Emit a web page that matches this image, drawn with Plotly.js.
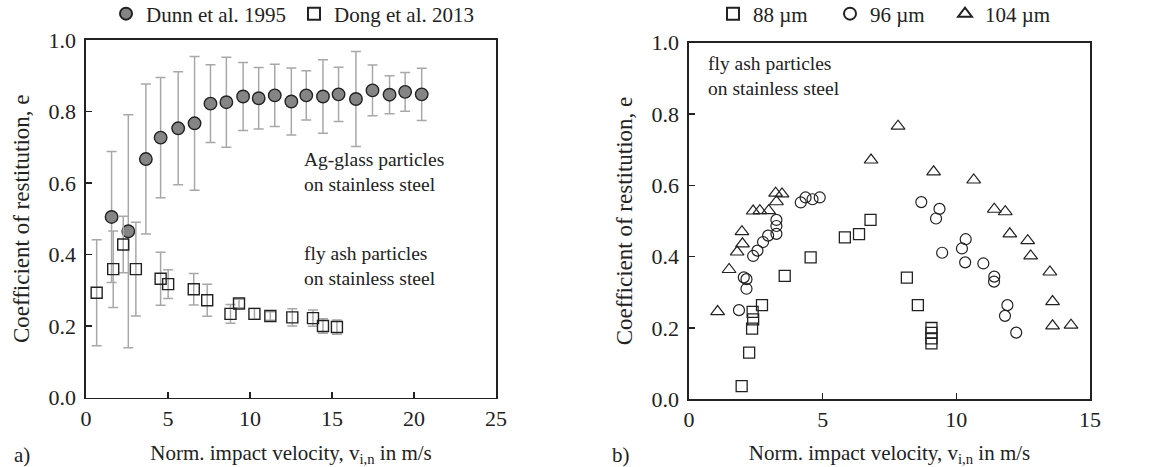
<!DOCTYPE html>
<html>
<head>
<meta charset="utf-8">
<script src="https://cdn.plot.ly/plotly-3.0.1.min.js"></script>
<style>html,body{margin:0;padding:0;background:#fff;}#chart{width:1153px;height:467px;}</style>
</head>
<body>
<div id="chart"></div>
<script>
// ---- Panel a) ----
const dunnX = [1.56, 2.58, 3.65, 4.55, 5.62, 6.62, 7.59, 8.56, 9.58, 10.53, 11.51, 12.52, 13.43, 14.45, 15.40, 16.46, 17.47, 18.51, 19.46, 20.47];
const dunnY = [0.505, 0.465, 0.667, 0.727, 0.753, 0.767, 0.822, 0.826, 0.842, 0.837, 0.845, 0.828, 0.845, 0.842, 0.848, 0.835, 0.859, 0.847, 0.855, 0.848];
const dunnErr = [0.183, 0.326, 0.21, 0.168, 0.158, 0.187, 0.109, 0.126, 0.095, 0.086, 0.087, 0.094, 0.069, 0.103, 0.076, 0.133, 0.071, 0.053, 0.054, 0.073];

const dongX = [0.65, 1.66, 2.27, 3.04, 4.55, 5.01, 6.57, 7.39, 8.81, 9.33, 10.27, 11.24, 12.58, 13.84, 14.45, 15.30];
const dongY = [0.293, 0.359, 0.428, 0.359, 0.332, 0.317, 0.303, 0.272, 0.234, 0.263, 0.234, 0.228, 0.224, 0.222, 0.200, 0.197];
const dongErr = [0.148, 0.107, 0.079, 0.131, 0.074, 0.04, 0.044, 0.045, 0.026, 0.012, 0.015, 0.012, 0.024, 0.023, 0.02, 0.02];

// ---- Panel b) ----
const s88X = [1.97, 2.25, 2.36, 2.40, 2.38, 2.73, 3.58, 4.55, 5.83, 6.36, 6.79, 8.15, 8.56, 9.07, 9.07, 9.07, 9.07];
const s88Y = [0.037, 0.131, 0.198, 0.224, 0.245, 0.264, 0.346, 0.398, 0.454, 0.463, 0.503, 0.341, 0.264, 0.200, 0.186, 0.171, 0.157];

const s96X = [1.87, 2.05, 2.15, 2.15, 2.40, 2.56, 2.77, 2.96, 3.27, 3.27, 3.27, 4.18, 4.36, 4.62, 4.89, 8.69, 9.24, 9.37, 9.47, 10.21, 10.35, 10.33, 11.01, 11.42, 11.41, 11.91, 11.82, 12.24];
const s96Y = [0.250, 0.342, 0.337, 0.310, 0.402, 0.417, 0.441, 0.459, 0.464, 0.486, 0.503, 0.552, 0.566, 0.561, 0.566, 0.553, 0.507, 0.534, 0.411, 0.423, 0.449, 0.384, 0.381, 0.344, 0.330, 0.264, 0.234, 0.187];

const s104X = [1.07, 1.50, 1.80, 2.00, 1.98, 2.40, 2.65, 2.98, 3.27, 3.24, 3.48, 6.81, 7.82, 9.15, 10.65, 11.42, 11.83, 12.0, 12.67, 12.78, 13.50, 13.60, 13.60, 14.29];
const s104Y = [0.246, 0.364, 0.413, 0.436, 0.470, 0.528, 0.529, 0.529, 0.554, 0.578, 0.576, 0.671, 0.766, 0.638, 0.615, 0.533, 0.526, 0.464, 0.445, 0.402, 0.357, 0.274, 0.206, 0.208];

const xTicksA = [0, 5, 10, 15, 20, 25];
const xTicksB = [0, 5, 10, 15];
const yTicks = [0, 0.2, 0.4, 0.6, 0.8, 1.0];

const FAM = '"Liberation Serif", "Times New Roman", serif';
const INK = '#222';
const ERRC = '#a8a8a8';
const F = (size) => ({family: FAM, size: size, color: INK});

const traces = [
  {
    name: 'Dunn et al. 1995', x: dunnX, y: dunnY, type: 'scatter', mode: 'markers',
    xaxis: 'x', yaxis: 'y', legend: 'legend',
    marker: {symbol: 'circle', size: 12.5, color: '#858585', line: {color: INK, width: 1.4}},
    error_y: {type: 'data', array: dunnErr, visible: true, color: ERRC, thickness: 1.5, width: 5}
  },
  {
    name: 'Dong et al. 2013', x: dongX, y: dongY, type: 'scatter', mode: 'markers',
    xaxis: 'x', yaxis: 'y', legend: 'legend',
    marker: {symbol: 'square', size: 11, color: 'rgba(255,255,255,0)', line: {color: INK, width: 1.4}},
    error_y: {type: 'data', array: dongErr, visible: true, color: ERRC, thickness: 1.5, width: 5}
  },
  {
    name: '88 µm', x: s88X, y: s88Y, type: 'scatter', mode: 'markers',
    xaxis: 'x2', yaxis: 'y2', legend: 'legend2',
    marker: {symbol: 'square-open', size: 11, color: INK, line: {width: 1.3}}
  },
  {
    name: '96 µm', x: s96X, y: s96Y, type: 'scatter', mode: 'markers',
    xaxis: 'x2', yaxis: 'y2', legend: 'legend3',
    marker: {symbol: 'circle-open', size: 11, color: INK, line: {width: 1.2}}
  },
  {
    name: '104 µm', x: s104X, y: s104Y, type: 'scatter', mode: 'markers',
    xaxis: 'x2', yaxis: 'y2', legend: 'legend4',
    marker: {symbol: 'triangle-up-open', size: 12, color: INK, line: {width: 1.2}}
  }
];

const xTitle = 'Norm. impact velocity, v<sub>i,n</sub> in m/s';
const yTitle = 'Coefficient of restitution, e';

function xaxisBase(domain, range, ticks) {
  return {
    domain: domain, range: range, tickvals: ticks, ticktext: ticks.map(String),
    ticks: 'inside', ticklen: 6, tickwidth: 1.3, tickcolor: INK,
    showline: true, mirror: true, linecolor: INK, linewidth: 1.6,
    showgrid: false, zeroline: false, fixedrange: true,
    tickfont: F(22), ticklabelstandoff: 0,
    title: {text: xTitle, font: F(21), standoff: 24}
  };
}
function yaxisBase(domain, anchor) {
  return {
    domain: domain, range: [0, 1], tickvals: yTicks, ticktext: yTicks.map(v => v.toFixed(1)),
    ticks: 'inside', ticklen: 6, tickwidth: 1.3, tickcolor: INK,
    showline: true, mirror: true, linecolor: INK, linewidth: 1.6,
    showgrid: false, zeroline: false, fixedrange: true, anchor: anchor,
    tickfont: F(22), ticklabelstandoff: 4,
    title: {text: yTitle, font: F(23), standoff: 12}
  };
}

const xa = xaxisBase([86/1153, 496/1153], [0, 25], xTicksA); xa.anchor = 'y';
const xb = xaxisBase([689/1153, 1090/1153], [0, 15], xTicksB); xb.anchor = 'y2';

function legendAt(xpx, ew) {
  const o = {
    orientation: 'h', x: xpx/1153, y: 1 - 14/467, xanchor: 'left', yanchor: 'middle',
    font: F(21), itemwidth: 30, itemsizing: 'constant',
    bgcolor: 'rgba(0,0,0,0)', borderwidth: 0
  };
  if (ew) { o.entrywidth = ew; o.entrywidthmode = 'pixels'; }
  return o;
}

const layout = {
  width: 1153, height: 467, autosize: false,
  margin: {l: 0, r: 0, t: 0, b: 0, autoexpand: false},
  paper_bgcolor: '#fff', plot_bgcolor: '#fff',
  font: F(21),
  showlegend: true,
  xaxis: xa,
  yaxis: yaxisBase([69.5/467, 427/467], 'x'),
  xaxis2: xb,
  yaxis2: yaxisBase([67.7/467, 424.3/467], 'x2'),
  legend: legendAt(106, 143),
  legend2: legendAt(713, 0),
  legend3: legendAt(830, 0),
  legend4: legendAt(945, 0),
  annotations: [
    {xref: 'paper', yref: 'paper', x: 302/1153, y: 1 - 172/467, xanchor: 'left', yanchor: 'middle', align: 'left',
     showarrow: false, text: 'Ag-glass particles<br>on stainless steel', font: F(19.5)},
    {xref: 'paper', yref: 'paper', x: 302/1153, y: 1 - 266/467, xanchor: 'left', yanchor: 'middle', align: 'left',
     showarrow: false, text: 'fly ash particles<br>on stainless steel', font: F(19.5)},
    {xref: 'paper', yref: 'paper', x: 706/1153, y: 1 - 76/467, xanchor: 'left', yanchor: 'middle', align: 'left',
     showarrow: false, text: 'fly ash particles<br>on stainless steel', font: F(19.5)},
    {xref: 'paper', yref: 'paper', x: 12/1153, y: 1 - 455/467, xanchor: 'left', yanchor: 'middle',
     showarrow: false, text: 'a)', font: F(21)},
    {xref: 'paper', yref: 'paper', x: 610/1153, y: 1 - 455/467, xanchor: 'left', yanchor: 'middle',
     showarrow: false, text: 'b)', font: F(21)}
  ]
};

Plotly.newPlot('chart', traces, layout, {staticPlot: true, displayModeBar: false});
</script>
</body>
</html>
